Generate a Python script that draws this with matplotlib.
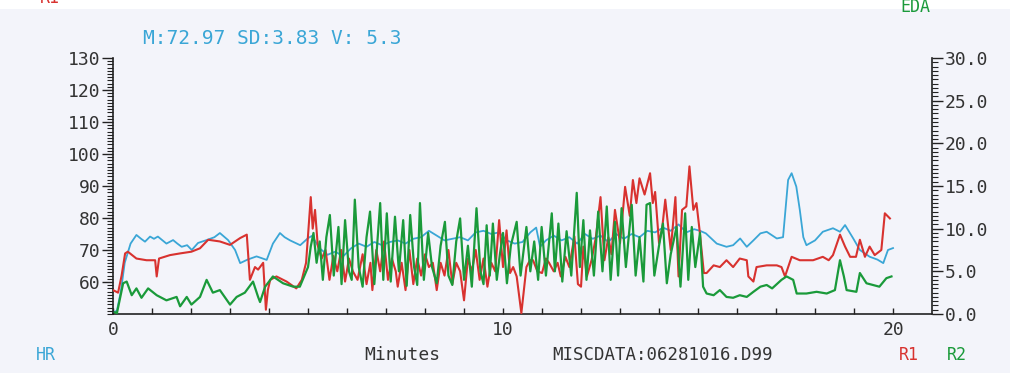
### HR / R1 / R2 trace over 20 minutes, recreated from a scanned printout ###

import numpy as np
import matplotlib.pyplot as plt
from matplotlib.patches import Rectangle

# HR trace (left axis, bpm)
hr_t = [0.0, 0.1, 0.2, 0.3, 0.45, 0.6, 0.72, 0.82, 0.95, 1.05, 1.15, 1.27, 1.37, 1.54, 1.65, 1.76,
        1.9, 2.02, 2.18, 2.4, 2.6, 2.74, 2.95, 3.13, 3.26, 3.45, 3.68, 3.8, 3.94, 4.1, 4.28, 4.4,
        4.54, 4.8, 5.0, 5.1, 5.3, 5.5, 5.7, 5.9, 6.1, 6.3, 6.5, 6.7, 6.9, 7.1, 7.3, 7.5, 7.7, 7.9,
        8.1, 8.3, 8.5, 8.7, 8.9, 9.1, 9.3, 9.5, 9.7, 9.9, 10.1, 10.3, 10.5, 10.7, 10.85, 10.95,
        11.1, 11.3, 11.5, 11.7, 11.9, 12.1, 12.3, 12.5, 12.7, 12.9, 13.1, 13.3, 13.5, 13.7, 13.9,
        14.1, 14.3, 14.5, 14.7, 14.9, 15.05, 15.2, 15.48, 15.73, 15.9, 16.08, 16.25, 16.42, 16.6,
        16.76, 17.02, 17.18, 17.31, 17.4, 17.52, 17.61, 17.7, 17.78, 18.0, 18.2, 18.46, 18.64,
        18.77, 18.98, 19.15, 19.4, 19.6, 19.75, 19.87, 20.0]
hr = [50.5, 51, 57, 66, 72, 74.7, 73.5, 72.6, 74.2, 73.5, 74.2, 73, 72, 73.1, 72, 71,
      71.5, 70, 72.2, 73.1, 74, 75.3, 73.1, 70, 65.9, 67, 68, 67.5, 66.9, 72, 75.3, 74,
      73, 71.5, 73.7, 74.4, 70.5, 68.5, 69.5, 68, 70.5, 72, 71, 72.5, 71.5, 72.5, 73, 72, 73.5, 74,
      76, 74.5, 73, 73.5, 74, 73, 75.5, 76, 75, 75.5, 73, 72, 72.5, 75.5, 77, 71,
      73, 74.5, 73, 74, 72, 75, 73.5, 74.5, 72.5, 75, 73.5, 75, 74, 76, 75.5,
      77, 76, 78, 75.5, 76.5, 76, 75.2, 72, 71, 71.5, 73.6, 71, 73, 75.2,
      75.7, 73.6, 74, 91.9, 94, 89.8, 82.5, 74, 71.5, 73, 75.7, 76.8, 75.7,
      77.8, 73.6, 70, 67.9, 67, 65.9, 70, 70.6]

# R1 trace (right axis)
r1_t = [0.0, 0.13, 0.22, 0.31, 0.38, 0.6, 0.86, 1.08, 1.12, 1.18, 1.46, 1.72, 2.01, 2.23, 2.44,
        2.74, 3.0, 3.26, 3.43, 3.51, 3.64, 3.72, 3.85, 3.92, 3.97, 4.03, 4.19, 4.45, 4.7, 4.84,
        4.95, 5.07, 5.12, 5.18, 5.25, 5.35, 5.45, 5.55, 5.65, 5.75, 5.85, 5.95, 6.05, 6.15, 6.27,
        6.4, 6.5, 6.6, 6.65, 6.75, 6.85, 6.95, 7.05, 7.15, 7.25, 7.3, 7.4, 7.5, 7.6, 7.7, 7.8,
        7.9, 8.0, 8.1, 8.2, 8.3, 8.4, 8.5, 8.6, 8.7, 8.8, 8.9, 9.0, 9.1, 9.2, 9.3, 9.4, 9.5,
        9.6, 9.7, 9.8, 9.9, 10.0, 10.09, 10.18, 10.26, 10.35, 10.47, 10.6, 10.69, 10.77, 10.88,
        11.0, 11.1, 11.18, 11.3, 11.4, 11.48, 11.6, 11.7, 11.83, 11.92, 12.0, 12.06, 12.15,
        12.27, 12.38, 12.5, 12.6, 12.7, 12.78, 12.87, 13.0, 13.13, 13.25, 13.33, 13.42, 13.5,
        13.63, 13.77, 13.84, 13.9, 14.0, 14.08, 14.16, 14.3, 14.42, 14.5, 14.59, 14.7, 14.78,
        14.88, 14.96, 15.04, 15.15, 15.22, 15.4, 15.56, 15.73, 15.9, 16.07, 16.25, 16.29,
        16.42, 16.5, 16.76, 17.02, 17.14, 17.23, 17.4, 17.61, 17.95, 18.2, 18.35, 18.46, 18.64,
        18.77, 18.9, 19.05, 19.15, 19.28, 19.4, 19.53, 19.7, 19.79, 19.92]
r1 = [2.8, 2.5, 4.5, 7.1, 7.3, 6.5, 6.3, 6.3, 4.4, 6.5, 6.9, 7.1, 7.3, 7.7, 8.7,
      8.5, 8.1, 8.9, 9.3, 4.0, 5.5, 5.2, 6.0, 0.5, 2.8, 4.0, 4.4, 3.8, 3.0, 4.0,
      6.0, 13.7, 10.0, 12.2, 8.0, 6.5, 7.5, 4.0, 6.8, 5.0, 7.5, 3.8, 6.5, 5.0, 4.0,
      7.0, 3.5, 6.0, 2.8, 7.5, 5.0, 8.5, 4.0, 6.5, 5.0, 3.2, 6.0, 2.8, 7.5, 3.5, 6.5,
      4.5, 7.0, 5.5, 6.0, 2.8, 6.0, 4.5, 7.5, 3.5, 6.0, 5.0, 1.6, 6.5, 5.0, 7.5, 4.0, 6.5,
      3.2, 6.0, 5.0, 11.0, 5.5, 9.8, 4.8, 5.5, 4.4, 0.1, 5.5, 6.3, 6.3, 5.0,
      4.8, 6.5, 6.0, 5.0, 6.0, 4.4, 6.7, 5.5, 9.1, 3.5, 3.2, 7.9, 4.4,
      6.3, 9.0, 13.7, 6.3, 9.0, 7.0, 12.2, 8.3, 14.9, 11.5, 15.7, 13.0, 15.9,
      14.0, 16.5, 13.0, 14.3, 8.3, 10.0, 13.4, 7.5, 13.7, 4.4, 12.2, 12.6, 17.3,
      12.2, 13.0, 9.8, 4.8, 4.8, 5.7, 5.5, 6.3, 5.5, 6.5, 6.3, 4.4,
      3.8, 5.5, 5.7, 5.7, 5.5, 4.4, 6.7, 6.3, 6.3, 6.7, 6.3, 6.9, 9.3,
      7.9, 6.7, 6.7, 8.7, 6.7, 7.9, 6.9, 7.5, 11.8, 11.2]

# R2 trace (right axis)
r2_t = [0.05, 0.1, 0.26, 0.35, 0.48, 0.6, 0.73, 0.9, 1.12, 1.37, 1.63, 1.72, 1.89, 2.01, 2.23,
        2.4, 2.56, 2.74, 3.0, 3.17, 3.38, 3.59, 3.72, 3.77, 3.9, 4.1, 4.36, 4.62, 4.79, 5.0,
        5.07, 5.14, 5.22, 5.3, 5.38, 5.47, 5.56, 5.66, 5.78, 5.86, 5.95, 6.05, 6.12, 6.2, 6.3,
        6.4, 6.5, 6.59, 6.7, 6.85, 6.93, 7.02, 7.12, 7.23, 7.33, 7.44, 7.53, 7.62, 7.72, 7.8,
        7.87, 7.97, 8.08, 8.18, 8.3, 8.4, 8.51, 8.6, 8.7, 8.8, 8.9, 9.0, 9.1, 9.2, 9.32, 9.42,
        9.5, 9.58, 9.66, 9.74, 9.84, 9.92, 10.0, 10.1, 10.2, 10.35, 10.45, 10.6, 10.7, 10.8,
        10.9, 10.99, 11.1, 11.25, 11.33, 11.42, 11.52, 11.63, 11.75, 11.89, 11.97, 12.06,
        12.14, 12.23, 12.33, 12.44, 12.55, 12.66, 12.76, 12.87, 12.95, 13.04, 13.15, 13.3,
        13.4, 13.5, 13.6, 13.68, 13.77, 13.88, 14.0, 14.1, 14.2, 14.3, 14.45, 14.55, 14.67,
        14.75, 14.84, 14.93, 15.05, 15.13, 15.22, 15.4, 15.56, 15.73, 15.9, 16.07, 16.25,
        16.42, 16.6, 16.76, 16.9, 17.14, 17.27, 17.44, 17.53, 17.78, 18.04, 18.3, 18.51,
        18.64, 18.74, 18.81, 19.06, 19.15, 19.32, 19.48, 19.65, 19.83, 19.96]
r2 = [0.2, 0.1, 3.6, 3.8, 2.2, 3.0, 1.9, 3.0, 2.2, 1.6, 2.0, 0.9, 2.0, 1.1, 2.0,
      4.0, 2.5, 2.8, 1.1, 2.0, 2.5, 3.8, 2.0, 1.4, 3.2, 4.4, 3.6, 3.2, 3.2, 5.5,
      7.9, 9.5, 6.0, 8.5, 4.0, 9.0, 11.6, 4.5, 10.2, 3.5, 11.0, 5.0, 4.0, 13.4, 5.5,
      3.2, 9.0, 12.0, 3.5, 13.0, 4.0, 11.8, 3.8, 11.4, 5.0, 11.0, 3.3, 11.6, 5.5, 3.4,
      13.0, 4.0, 9.5, 5.5, 3.6, 8.0, 10.8, 4.5, 3.4, 8.5, 11.2, 4.0, 8.0, 3.2, 12.4, 5.0,
      3.5, 10.4, 4.5, 10.6, 4.0, 7.0, 9.5, 3.6, 8.0, 10.8, 4.5, 10.2, 5.0, 8.5,
      4.0, 10.2, 4.5, 11.8, 5.0, 10.6, 3.8, 9.7, 4.5, 14.2, 5.5, 11.0,
      4.0, 9.8, 4.5, 12.0, 5.0, 12.6, 4.0, 10.8, 4.5, 12.4, 5.5, 12.8,
      4.5, 9.0, 3.8, 12.8, 13.0, 4.5, 8.0, 10.6, 3.6, 7.0, 10.2, 3.2, 11.8,
      4.0, 10.2, 5.5, 9.5, 3.2, 2.4, 2.2, 2.8, 2.0, 1.9, 2.2, 2.0,
      2.6, 3.2, 3.4, 3.0, 4.0, 4.4, 4.0, 2.4, 2.4, 2.6, 2.4, 2.8,
      6.3, 4.4, 2.8, 2.6, 4.8, 3.6, 3.4, 3.2, 4.2, 4.4]

stats_text = 'M:72.97 SD:3.83 V: 5.3'
file_text = 'MISCDATA:06281016.D99'

# colours of the printout
bg = '#f3f4fa'
cyan = '#3aa6d6'
red = '#d8322f'
green = '#1a9a3a'
ink = '#333333'
mono = 'DejaVu Sans Mono'

plt.rcParams['font.family'] = mono

fig = plt.figure(figsize=(10.1, 3.73), dpi=100, facecolor=bg)
fig.patches.append(Rectangle((0, 0.975), 1, 0.03, transform=fig.transFigure,
                             facecolor='white', edgecolor='none', zorder=0))

ax = fig.add_axes([0.1119, 0.1582, 0.8109, 0.6863])
ax.set_facecolor('none')
ax2 = ax.twinx()
ax2.set_facecolor('none')

ax.plot(hr_t, hr, color=cyan, lw=1.3)
ax2.plot(r1_t, r1, color=red, lw=1.5)
ax2.plot(r2_t, r2, color=green, lw=1.6)

# left axis (HR)
ax.set_xlim(0, 21)
ax.set_ylim(50, 130)
ax.set_xticks([0, 10, 20])
ax.set_xticks(np.arange(0, 21, 1), minor=True)
ax.set_yticks(np.arange(60, 131, 10))
ax.set_yticks(np.arange(50, 131, 1), minor=True)
ax.tick_params(axis='x', which='both', direction='in', length=4, width=1,
               pad=5, labelsize=13, labelcolor=ink, color='#222222')
ax.tick_params(axis='y', which='major', direction='out', length=8, width=1,
               pad=1, labelsize=13, labelcolor=ink, color='#222222')
ax.tick_params(axis='y', which='minor', direction='out', length=4, width=0.8, color='#222222')

# right axis (R1 / R2)
ax2.set_ylim(0, 30)
ax2.set_yticks(np.arange(0, 31, 5))
ax2.set_yticks(np.arange(0, 30.01, 0.5), minor=True)
ax2.set_yticklabels([f'{v:.1f}' for v in np.arange(0, 31, 5)])
ax2.tick_params(axis='y', which='major', direction='out', length=8, width=1,
                pad=1, labelsize=13, labelcolor=ink, color='#222222')
ax2.tick_params(axis='y', which='minor', direction='out', length=4, width=0.8, color='#222222')

for s in ['top', 'right']:
    ax.spines[s].set_visible(False)
for s in ['top', 'left', 'bottom']:
    ax2.spines[s].set_visible(False)
for a in [ax, ax2]:
    for s in a.spines.values():
        s.set_color('#222222')
        s.set_linewidth(1.2)

# printed labels round the plot
W, H = 1010.0, 373.0
fig.text(143 / W, 1 - 38 / H, stats_text, color=cyan, fontsize=14, va='center', ha='left')
fig.text(36 / W, 1 - 355 / H, 'HR', color=cyan, fontsize=12, va='center', ha='left')
fig.text(364 / W, 1 - 355 / H, 'Minutes', color=ink, fontsize=13, va='center', ha='left')
fig.text(552 / W, 1 - 355 / H, file_text, color=ink, fontsize=12.5, va='center', ha='left')
fig.text(899 / W, 1 - 355 / H, 'R1', color=red, fontsize=12, va='center', ha='left')
fig.text(947 / W, 1 - 355 / H, 'R2', color=green, fontsize=12, va='center', ha='left')
# cut-off headers at the top edge of the scan
fig.text(900 / W, 1 - 12 / H, 'EDA', color=green, fontsize=12, va='baseline', ha='left')
fig.text(40 / W, 1 - 3 / H, 'R1', color=red, fontsize=12, va='baseline', ha='left')

fig.savefig('out.png', dpi=100, facecolor=bg)
